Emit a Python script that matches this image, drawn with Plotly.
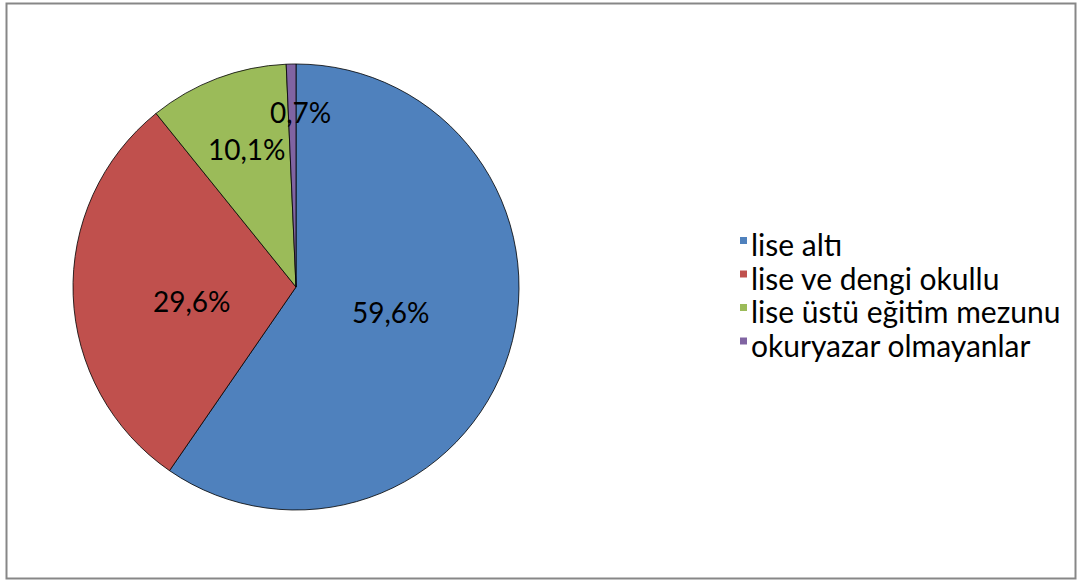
import math
import plotly.graph_objects as go

categories = ["lise altı", "lise ve dengi okullu", "lise üstü eğitim mezunu", "okuryazar olmayanlar"]
values = [59.6, 29.6, 10.1, 0.7]
text_labels = ["59,6%", "29,6%", "10,1%", "0,7%"]
colors = ["#4F81BD", "#C0504D", "#9BBB59", "#8064A2"]
label_radius = [0.440, 0.469, 0.656, 0.785]
label_angle_shift = [-2.8, -5.8, 1.3, 2.6]

W, H = 1082, 581
cx, cy, R = 296, 287, 223

fig = go.Figure(go.Pie(
    labels=categories, values=values, sort=False, direction="clockwise", rotation=0,
    marker=dict(colors=colors, line=dict(color="#000000", width=0.8)),
    textinfo="none", hoverinfo="label+percent", showlegend=False,
    domain=dict(x=[(cx - R) / W, (cx + R) / W], y=[1 - (cy + R) / H, 1 - (cy - R) / H]),
))

total = sum(values)
cum = 0
anns = []
for v, t, rf, sh in zip(values, text_labels, label_radius, label_angle_shift):
    mid = (cum + v / 2) / total * 2 * math.pi + math.radians(sh)
    cum += v
    px = cx + R * rf * math.sin(mid)
    py = cy - R * rf * math.cos(mid)
    anns.append(dict(x=px / W, y=1 - py / H, xref="paper", yref="paper", text=t,
                     showarrow=False, font=dict(family="Lato", size=28, color="#000000"),
                     xanchor="center", yanchor="middle"))

# legend (Excel style: small swatch at top-left of each entry, tight rows)
shapes = [dict(type="rect", xref="paper", yref="paper",
               x0=6.5 / W, x1=1075.5 / W, y0=1 - 578.5 / H, y1=1 - 3.5 / H,
               line=dict(color="#878787", width=2))]
leg_x_text, leg_x_sw, first_baseline, row_step = 749, 740, 255, 33.5
for i, (cat, col) in enumerate(zip(categories, colors)):
    base = first_baseline + i * row_step
    anns.append(dict(x=leg_x_text / W, y=1 - (base - 11) / H, xref="paper", yref="paper",
                     text=cat, showarrow=False, xanchor="left", yanchor="middle",
                     font=dict(family="Lato", size=30, color="#000000")))
    top = base - 18
    shapes.append(dict(type="rect", xref="paper", yref="paper",
                       x0=leg_x_sw / W, x1=(leg_x_sw + 7) / W,
                       y0=1 - (top + 7) / H, y1=1 - top / H,
                       fillcolor=col, line=dict(width=0)))

fig.update_layout(
    width=W, height=H, margin=dict(l=0, r=0, t=0, b=0),
    paper_bgcolor="white", plot_bgcolor="white",
    showlegend=False,
    annotations=anns,
    shapes=shapes,
)
fig.write_html("out.html")
